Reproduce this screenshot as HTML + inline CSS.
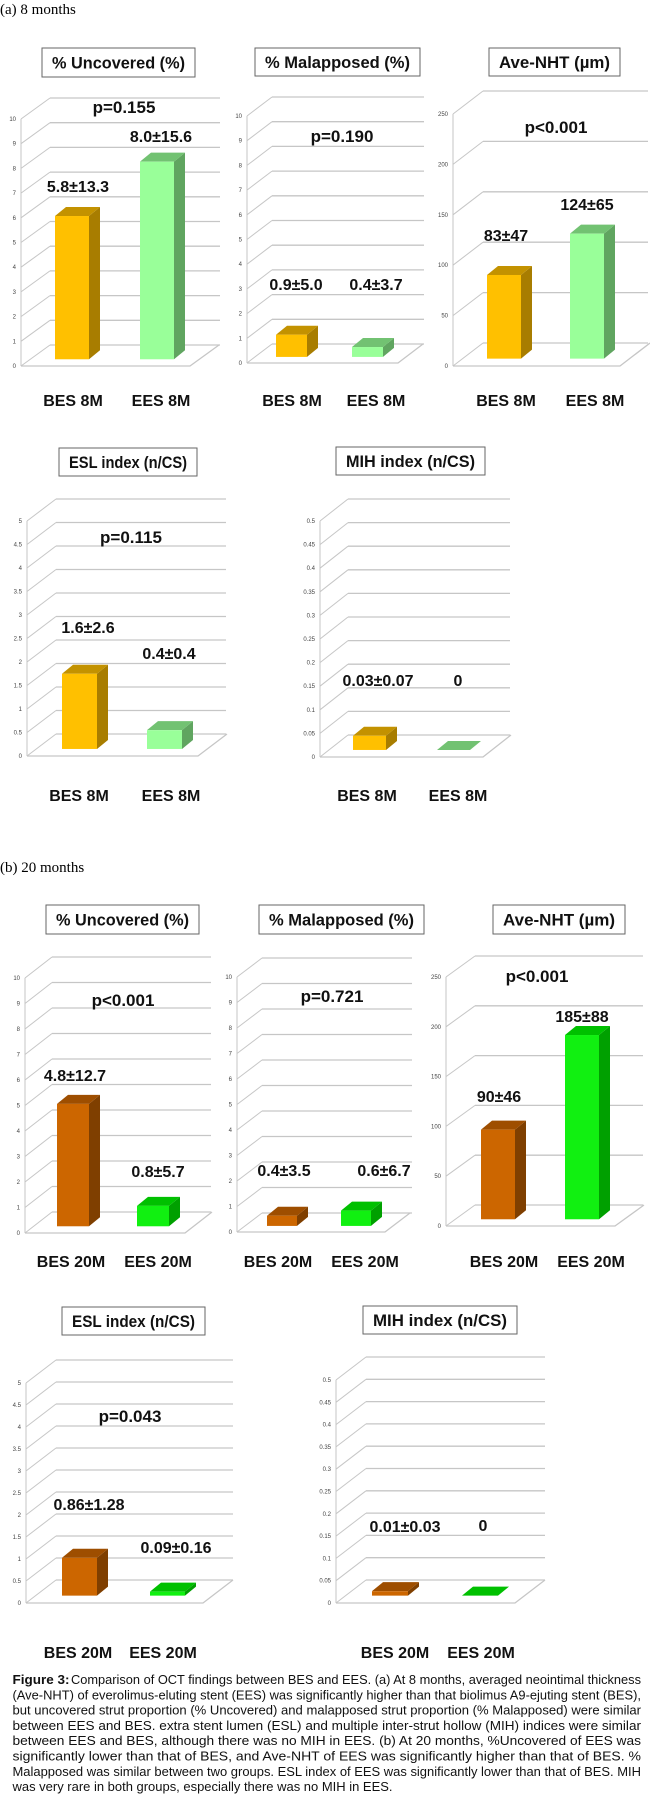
<!DOCTYPE html>
<html><head><meta charset="utf-8">
<style>
html,body{margin:0;padding:0;background:#fff;}
svg{display:block;}
</style></head>
<body>
<svg id="fig" width="650" height="1799" viewBox="0 0 650 1799" xmlns="http://www.w3.org/2000/svg">
<text x="0" y="14" font-family="Liberation Serif, serif" font-size="15">(a) 8 months</text>
<text x="0" y="872" font-family="Liberation Serif, serif" font-size="15">(b) 20 months</text>
<g id="caption" font-family="Liberation Sans, sans-serif" font-size="13" fill="#111"></g>
</svg>
<script>
// ---- data ----
const cats8 = ["BES 8M", "EES 8M"];
const cats20 = ["BES 20M", "EES 20M"];
const uncov8 = [5.8, 8.0];
const malap8 = [0.9, 0.4];
const nht8 = [83, 124];
const esl8 = [1.6, 0.4];
const mih8 = [0.03, 0];
const uncov20 = [4.8, 0.8];
const malap20 = [0.4, 0.6];
const nht20 = [90, 185];
const esl20 = [0.86, 0.09];
const mih20 = [0.01, 0];
const lblUncov8 = ["5.8±13.3", "8.0±15.6"];
const lblMalap8 = ["0.9±5.0", "0.4±3.7"];
const lblNht8 = ["83±47", "124±65"];
const lblEsl8 = ["1.6±2.6", "0.4±0.4"];
const lblMih8 = ["0.03±0.07", "0"];
const lblUncov20 = ["4.8±12.7", "0.8±5.7"];
const lblMalap20 = ["0.4±3.5", "0.6±6.7"];
const lblNht20 = ["90±46", "185±88"];
const lblEsl20 = ["0.86±1.28", "0.09±0.16"];
const lblMih20 = ["0.01±0.03", "0"];
const ticksPct = [0,1,2,3,4,5,6,7,8,9,10];
const ticksNht = [0,50,100,150,200,250];
const ticksEsl = [0,0.5,1,1.5,2,2.5,3,3.5,4,4.5,5];
const ticksMih = [0,0.05,0.1,0.15,0.2,0.25,0.3,0.35,0.4,0.45,0.5];

const NS = "http://www.w3.org/2000/svg";
const svg = document.getElementById('fig');
const C8 = [{f:'#FFC000',s:'#A87D00',t:'#C39200'},{f:'#99FF99',s:'#60A560',t:'#72C272'}];
const C20 = [{f:'#CC6600',s:'#7F3F00',t:'#9E4E00'},{f:'#11F011',s:'#00A000',t:'#00C000'}];

function mk(tag, attrs, parent){
  const e = document.createElementNS(NS, tag);
  for (const k in attrs) e.setAttribute(k, attrs[k]);
  (parent||svg).appendChild(e);
  return e;
}
function txt(parent, x, y, s, size, anchor){
  const t = mk('text', {x:x, y:y, 'font-family':'Liberation Sans, sans-serif', 'font-weight':'bold', 'font-size':size, 'text-anchor':anchor||'middle', fill:'#111'}, parent);
  t.textContent = s;
  return t;
}

function panel(id, cfg, title, cats, vals, lbls, ticks, pText, colors){
  const g = mk('g', {});
  
  
  const max = ticks[ticks.length-1];
  const sc = (cfg.y0 - cfg.yTop) / max;
  const yv = v => cfg.y0 - v*sc;
  // title box
  const tb = mk('rect', {x:cfg.tb[0], y:cfg.tb[1], width:cfg.tb[2], height:cfg.tb[3], fill:'#fff', stroke:'#666', 'stroke-width':1}, g);
  
  
  const tt = txt(g, cfg.tb[0]+cfg.tb[2]/2, cfg.tb[1]+cfg.tb[3]/2+6, title, 17);
  tt.setAttribute('textLength', cfg.tb[2]-20);
  tt.setAttribute('lengthAdjust', 'spacingAndGlyphs');
  
  
  // grid
  const gc = '#c6c6c6';
  mk('line', {x1:cfg.ax, y1:yv(max), x2:cfg.ax, y2:cfg.y0, stroke:gc, 'stroke-width':1}, g);
  ticks.forEach(tv => {
    const y = yv(tv);
    const gl = mk('line', {x1:cfg.ax+cfg.dx, y1:y+cfg.dy, x2:cfg.br, y2:y+cfg.dy, stroke:gc, 'stroke-width':1.3}, g);
    
    
    mk('line', {x1:cfg.ax, y1:y, x2:cfg.ax+cfg.dx, y2:y+cfg.dy, stroke:gc, 'stroke-width':1}, g);
    const tl = mk('text', {x:cfg.ax-5, y:y+2, 'font-family':'Liberation Sans, sans-serif', 'font-size':6, 'text-anchor':'end', fill:'#444'}, g);
    tl.textContent = String(tv);
    
    
  });
  // floor
  mk('polyline', {points:`${cfg.ax},${cfg.y0} ${cfg.fr},${cfg.y0} ${cfg.fr+cfg.dx},${cfg.y0+cfg.dy}`, fill:'none', stroke:gc, 'stroke-width':1.3}, g);
  // bars
  const base = cfg.y0 + cfg.dy*0.32;
  const bw = cfg.bw, sdx = 11, sdy = -9;
  vals.forEach((v, i) => {
    const x = cfg.bx[i], top = base - v*sc, c = colors[i];
    const bg = mk('g', {}, g);
    
    
    mk('polygon', {points:`${x+bw},${top} ${x+bw+sdx},${top+sdy} ${x+bw+sdx},${base+sdy} ${x+bw},${base}`, fill:c.s}, bg);
    mk('polygon', {points:`${x},${top} ${x+sdx},${top+sdy} ${x+bw+sdx},${top+sdy} ${x+bw},${top}`, fill:c.t}, bg);
    if (base - top > 0.5) mk('rect', {x:x, y:top, width:bw, height:base-top, fill:c.f}, bg);
    const vl = txt(g, cfg.vl[i][0], cfg.vl[i][1], lbls[i], 16);
    
    
    const cl = txt(g, cfg.cx[i], cfg.cy, cats[i], 16);
    
    
  });
  if (pText){
    const pt = txt(g, cfg.p[0], cfg.p[1], pText, 17);
    
    
  }
}

panel('uncovered-8m-chart', {tb:[42,48,153,29], ax:21, y0:366, yTop:119, dx:29, dy:-21, fr:190, br:220, bx:[55,140], bw:34, vl:[[78,192],[161,142]], cx:[73,161], cy:406, p:[124,113]}, '% Uncovered (%)', cats8, uncov8, lblUncov8, ticksPct, 'p=0.155', C8);
panel('malapposed-8m-chart', {tb:[255,48,165,28], ax:247, y0:363, yTop:116, dx:25, dy:-19, fr:398, br:424, bx:[276,352], bw:31, vl:[[296,290],[376,290]], cx:[292,376], cy:406, p:[342,142]}, '% Malapposed (%)', cats8, malap8, lblMalap8, ticksPct, 'p=0.190', C8);
panel('nht-8m-chart', {tb:[489,48,131,28], ax:453, y0:366, yTop:114, dx:30, dy:-23, fr:620, br:648, bx:[487,570], bw:34, vl:[[506,241],[587,210]], cx:[506,595], cy:406, p:[556,133]}, 'Ave-NHT (µm)', cats8, nht8, lblNht8, ticksNht, 'p<0.001', C8);
panel('esl-8m-chart', {tb:[59,448,138,28], ax:27, y0:756, yTop:521, dx:29, dy:-22, fr:198, br:226, bx:[62,147], bw:35, vl:[[88,633],[169,659]], cx:[79,171], cy:801, p:[131,543]}, 'ESL index (n/CS)', cats8, esl8, lblEsl8, ticksEsl, 'p=0.115', C8);
panel('mih-8m-chart', {tb:[336,447,149,28], ax:320, y0:757, yTop:521, dx:28, dy:-22, fr:483, br:510, bx:[353,437], bw:33, vl:[[378,686],[458,686]], cx:[367,458], cy:801, p:null}, 'MIH index (n/CS)', cats8, mih8, lblMih8, ticksMih, null, C8);

panel('uncovered-20m-chart', {tb:[46,905,153,29], ax:25, y0:1233, yTop:978, dx:27, dy:-21, fr:185, br:211, bx:[57,137], bw:32, vl:[[75,1081],[158,1177]], cx:[71,158], cy:1267, p:[123,1006]}, '% Uncovered (%)', cats20, uncov20, lblUncov20, ticksPct, 'p<0.001', C20);
panel('malapposed-20m-chart', {tb:[259,905,165,29], ax:237, y0:1232, yTop:977, dx:25, dy:-19, fr:385, br:412, bx:[267,341], bw:30, vl:[[284,1176],[384,1176]], cx:[278,365], cy:1267, p:[332,1002]}, '% Malapposed (%)', cats20, malap20, lblMalap20, ticksPct, 'p=0.721', C20);
panel('nht-20m-chart', {tb:[493,905,132,29], ax:446, y0:1226, yTop:977, dx:29, dy:-21, fr:615, br:643, bx:[481,565], bw:34, vl:[[499,1102],[582,1022]], cx:[504,591], cy:1267, p:[537,982]}, 'Ave-NHT (µm)', cats20, nht20, lblNht20, ticksNht, 'p<0.001', C20);
panel('esl-20m-chart', {tb:[62,1307,143,28], ax:26, y0:1603, yTop:1383, dx:30, dy:-23, fr:203, br:233, bx:[62,150], bw:35, vl:[[89,1510],[176,1553]], cx:[78,163], cy:1658, p:[130,1422]}, 'ESL index (n/CS)', cats20, esl20, lblEsl20, ticksEsl, 'p=0.043', C20);
panel('mih-20m-chart', {tb:[363,1306,154,28], ax:336, y0:1603, yTop:1380, dx:30, dy:-23, fr:515, br:545, bx:[372,462], bw:36, vl:[[405,1532],[483,1531]], cx:[395,481], cy:1658, p:null}, 'MIH index (n/CS)', cats20, mih20, lblMih20, ticksMih, null, C20);

// caption
const capLines = [
 "Comparison of OCT findings between BES and EES. (a) At 8 months, averaged neointimal thickness",
 "(Ave-NHT) of everolimus-eluting stent (EES) was significantly higher than that biolimus A9-ejuting stent (BES),",
 "but uncovered strut proportion (% Uncovered) and malapposed strut proportion (% Malapposed) were similar",
 "between EES and BES. extra stent lumen (ESL) and multiple inter-strut hollow (MIH) indices were similar",
 "between EES and BES, although there was no MIH in EES. (b)  At 20 months, %Uncovered of EES was",
 "significantly lower than that of BES, and Ave-NHT of EES was significantly higher than that of BES. %",
 "Malapposed was similar between two groups. ESL index of EES was significantly lower than that of BES. MIH",
 "was very rare in both groups, especially there was no MIH in EES."
];
const cap = document.getElementById('caption');
capLines.forEach((s, i) => {
  const y = 1684 + i*15.3;
  if (i === 0){
    const b = mk('text', {x:12.5, y:y, 'font-weight':'bold'}, cap);
    b.textContent = 'Figure 3:';
    b.setAttribute('textLength', 57);
    b.setAttribute('lengthAdjust', 'spacingAndGlyphs');
    const t = mk('text', {x:71, y:y, textLength:570, lengthAdjust:'spacingAndGlyphs'}, cap);
    t.textContent = s;
  } else {
    const t = mk('text', {x:12.5, y:y, textLength: i === 7 ? 380 : 628.5, lengthAdjust:'spacingAndGlyphs'}, cap);
    t.textContent = s;
  }
});
</script>
</body></html>
